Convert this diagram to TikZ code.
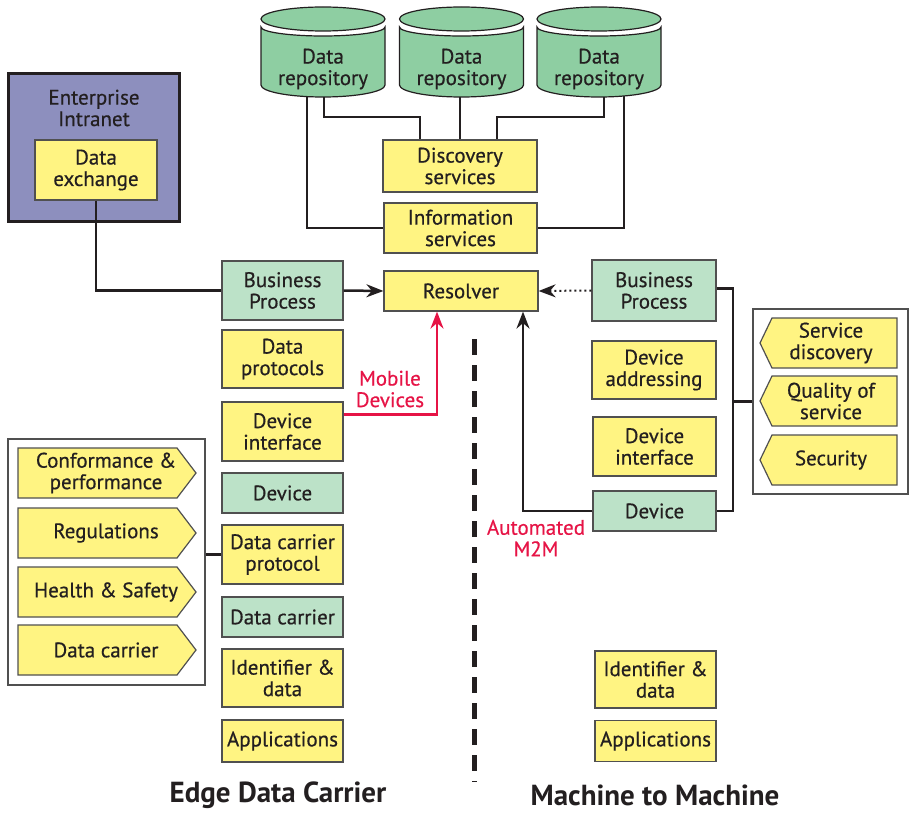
\documentclass[tikz,border=0pt]{standalone}
\usepackage{fontspec}
\setmainfont{PT Sans}
\newfontfamily\boxfont{PT Sans}[FakeBold=0.5]
\usetikzlibrary{arrows.meta,calc}
\definecolor{ink}{RGB}{35,31,32}
\definecolor{yel}{RGB}{255,244,130}
\definecolor{lgreen}{RGB}{188,226,200}
\definecolor{cgreen}{RGB}{142,206,162}
\definecolor{purp}{RGB}{141,143,190}
\definecolor{boxline}{RGB}{80,80,80}
\definecolor{redc}{RGB}{230,20,70}
\newcommand\fs{\boxfont\fontsize{21}{21.5}\selectfont}
\tikzset{
  box/.style={draw=boxline, line width=1.2pt, align=center, inner sep=0pt, font=\fs, text=ink},
  ybox/.style={box, fill=yel},
  gbox/.style={box, fill=lgreen},
  txt/.style={align=center, inner sep=0pt, font=\fs, text=ink},
  conn/.style={draw=ink, line width=2.5pt},
  arr/.style={conn, -{Stealth[length=17pt,width=13pt]}},
  redarr/.style={draw=redc, line width=2.5pt, -{Stealth[length=17pt,width=13pt]}},
  dotarr/.style={draw=ink, line width=2pt, dash pattern=on 2pt off 3pt, -{Stealth[length=17pt,width=13pt]}},
  panel/.style={draw=boxline, line width=1.2pt, fill=white, inner sep=0pt},
  cylfill/.style={fill=cgreen, draw=ink, line width=1.2pt},
  tagbox/.style={fill=yel, draw=boxline, line width=1.2pt},
  redlbl/.style={align=center, inner sep=0pt, font=\fs, text=redc},
  title/.style={inner sep=0pt, font=\fontsize{29}{30}\selectfont\bfseries, text=ink},
  divider/.style={draw=ink, line width=5pt, dash pattern=on 16pt off 10pt}
}
\begin{document}
\begin{tikzpicture}[x=1pt,y=-1pt]
\useasboundingbox (0,0) rectangle (910,813);
% coordinates at cylinder bottoms
\coordinate (cyl1b) at (323,90);
\coordinate (cyl2b) at (461.5,90);
\coordinate (cyl3b) at (599,90);
% service boxes
\node[ybox, minimum width=154pt, minimum height=52pt] (disc) at (460,166) {Discovery\\services};
\node[ybox, minimum width=153pt, minimum height=50pt] (info) at (460.5,228) {Information\\services};
\node[ybox, minimum width=154pt, minimum height=40pt] (res) at (461,291) {Resolver};
% connectors from repositories
\draw[conn] ([xshift=-16pt]cyl1b) |- (info.west);
\draw[conn] ([xshift=1pt]cyl1b) -- (324,117) -| ([xshift=-40pt]disc.north);
\draw[conn] (disc.north |- cyl2b) -- (disc.north);
\draw[conn] ([xshift=5pt]cyl3b) -- (604,117) -| ([xshift=37pt]disc.north);
\draw[conn] ([xshift=25pt]cyl3b) |- (info.east);
% cylinders
\foreach \cx/\nm in {323/cyl1, 461.5/cyl2, 599/cyl3}{
  \path[cylfill] (\cx-62,27) -- (\cx-62,85) arc[start angle=180,end angle=0,x radius=62,y radius=12]
    -- (\cx+62,27) arc[start angle=0,end angle=180,x radius=62,y radius=9] -- cycle;
  \path[cylfill] (\cx,19) ellipse[x radius=62,y radius=12];
  \node[txt] (\nm) at (\cx,69) {Data\\repository};
}
% enterprise
\node[draw=ink, fill=purp, line width=3pt, minimum width=171pt, minimum height=148pt, inner sep=0pt] (ent) at (93.5,148) {};
\node[txt] (enttitle) at (94,108) {Enterprise\\Intranet};
\node[ybox, minimum width=122pt, minimum height=60pt] (dex) at (96,170) {Data\\exchange};
% left column
\node[gbox, minimum width=121pt, minimum height=59pt] (bp1) at (282.5,290.5) {Business\\Process};
\node[ybox, minimum width=121pt, minimum height=58pt] (dp) at (282.5,359) {Data\\protocols};
\node[ybox, minimum width=121pt, minimum height=59pt] (di1) at (282.5,431.5) {Device\\interface};
\node[gbox, minimum width=121pt, minimum height=40pt] (dev1) at (282.5,493) {Device};
\node[ybox, minimum width=121pt, minimum height=59pt] (dcp) at (282.5,554.5) {Data carrier\\protocol};
\node[gbox, minimum width=121pt, minimum height=40pt] (dc) at (282.5,617) {Data carrier};
\node[ybox, minimum width=121pt, minimum height=58pt] (id1) at (282.5,678) {Identifier \&\\data};
\node[ybox, minimum width=121pt, minimum height=42pt] (app1) at (282.5,741) {Applications};
% right column
\node[gbox, minimum width=124pt, minimum height=61pt] (bp2) at (654,290.5) {Business\\Process};
\node[ybox, minimum width=124pt, minimum height=58pt] (da) at (654,370) {Device\\addressing};
\node[ybox, minimum width=123pt, minimum height=59pt] (di2) at (654.5,446.5) {Device\\interface};
\node[gbox, minimum width=123pt, minimum height=40pt] (dev2) at (654.5,511) {Device};
\node[ybox, minimum width=121pt, minimum height=57pt] (id2) at (655.5,679.5) {Identifier \&\\data};
\node[ybox, minimum width=121pt, minimum height=41pt] (app2) at (655.5,741) {Applications};
% left panel
\node[panel, minimum width=197pt, minimum height=246pt] (lpanel) at (106.5,562) {};
\foreach \ya/\nm/\tx in {448/conf/{Conformance \&\\performance}, 508/regu/Regulations, 567/hs/{Health \& Safety}, 625/dcar/{Data carrier}}{
  \path[tagbox] (18,\ya) -- (177,\ya) -- (196,\ya+25) -- (177,\ya+50) -- (18,\ya+50) -- cycle;
  \node[txt] (\nm) at (106,\ya+25) {\tx};
}
% right panel
\node[panel, minimum width=155pt, minimum height=185pt] (rpanel) at (830.5,401.5) {};
\foreach \ya/\nm/\tx in {318/sd/{Service\\discovery}, 376/qos/{Quality of\\service}, 435/sec/Security}{
  \path[tagbox] (760,\ya+25) -- (772,\ya) -- (897,\ya) -- (897,\ya+50) -- (772,\ya+50) -- cycle;
  \node[txt] (\nm) at (831,\ya+25) {\tx};
}
% connectors
\draw[conn] (dex.south) |- (bp1.west);
\draw[arr] (bp1.east) -- (res.west);
\draw[dotarr] (bp2.west) -- (res.east);
\draw[redarr] ([yshift=17pt]di1.east) -| ([xshift=-24pt]res.south);
\draw[arr] (dev2.west) -| ([xshift=62pt]res.south);
\draw[conn] (dcp.west) -- (dcp.west -| lpanel.east);
\coordinate (bx) at (733,0);
\draw[conn] ([yshift=2pt]bp2.east) -| (bx |- dev2.east) -- (dev2.east);
\draw[conn] (rpanel.west) -- (rpanel.west -| bx);
% divider
\coordinate (dtop) at (474,339);
\coordinate (dbot) at (474,782);
\draw[divider] (dtop) -- (dbot);
% labels
\node[redlbl] (mobile) at (390,389) {Mobile\\Devices};
\node[redlbl] (m2m) at (536,538) {Automated\\M2M};
\node[title] (edge) at (278,795) {Edge Data Carrier};
\node[title] (mtm) at (655,795) {Machine to Machine};
\end{tikzpicture}
\end{document}
